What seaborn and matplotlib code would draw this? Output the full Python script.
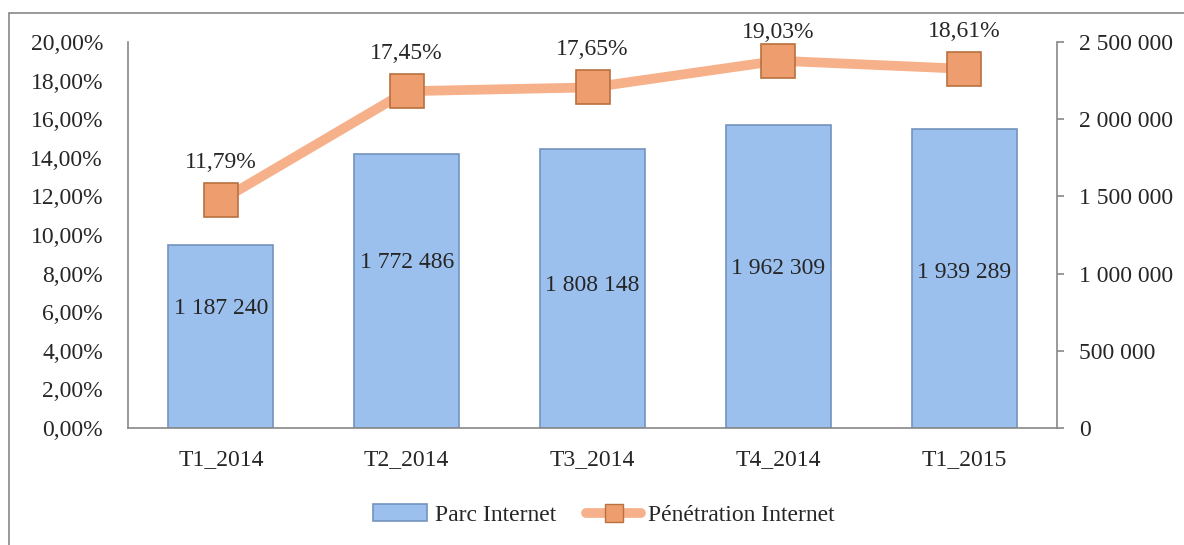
import numpy as np
import pandas as pd
import matplotlib.pyplot as plt
import seaborn as sns
from matplotlib.patches import Rectangle, Patch
from matplotlib.lines import Line2D
from matplotlib.ticker import FuncFormatter, MultipleLocator

# data
quarters = ["T1_2014", "T2_2014", "T3_2014", "T4_2014", "T1_2015"]
parc = [1187240, 1772486, 1808148, 1962309, 1939289]
penetration = [11.79, 17.45, 17.65, 19.03, 18.61]
# where Excel put the bar value labels (in bar units)
parc_label_y = [777000, 1075000, 926000, 1036000, 1004000]
# line label offsets above the markers (points); T4 is pushed down by the chart edge
pen_label_off = [27, 27, 27, 20, 27]

df = pd.DataFrame({"quarter": quarters, "parc": parc, "pen": penetration})

sns.set_theme(style="white")
plt.rcParams["font.family"] = ["Liberation Serif", "DejaVu Serif"]

FS = 17
bar_col = "#9cc0ee"
bar_edge = "#7393bd"
line_col = "#f6b08a"
mark_col = "#ee9e6e"
mark_edge = "#b9713f"
grey = "#888888"

fig = plt.figure(figsize=(11.84, 5.45), dpi=100)
fig.patches.append(Rectangle((9 / 1184, -0.1), 1.2, 1 - 13 / 545 + 0.1,
                             transform=fig.transFigure, fill=False,
                             edgecolor=grey, linewidth=1.2))

ax = fig.add_axes([128 / 1184, 1 - 428 / 545, (1057 - 128) / 1184, (428 - 42) / 545])
ax2 = ax.twinx()

# bars -> right axis (primary axes, ticks moved to the right)
sns.barplot(data=df, x="quarter", y="parc", ax=ax, color=bar_col, width=0.565,
            saturation=1, edgecolor=bar_edge, linewidth=1.2)
ax.set_ylim(0, 2500000)
ax.set_xlim(-0.5, 4.5)
ax.yaxis.tick_right()
ax.yaxis.set_label_position("right")
ax.yaxis.set_major_locator(MultipleLocator(500000))
ax.yaxis.set_major_formatter(FuncFormatter(lambda v, p: f"{int(v):,}".replace(",", " ")))
ax.tick_params(axis="y", which="both", right=True, left=False, length=5, width=1.2,
               color=grey, labelsize=FS, pad=11)
ax.tick_params(axis="x", length=0, labelsize=FS, pad=15)
ax.set_xlabel("")
ax.set_ylabel("")
for side in ["top", "left"]:
    ax.spines[side].set_visible(False)
for side in ["bottom", "right"]:
    ax.spines[side].set_color(grey)
    ax.spines[side].set_linewidth(1.2)

for i, (v, ly) in enumerate(zip(parc, parc_label_y)):
    ax.text(i, ly, f"{v:,}".replace(",", " "), ha="center", va="center", fontsize=FS)

# penetration line -> left axis
sns.pointplot(data=df, x="quarter", y="pen", ax=ax2, color=line_col,
              markers="s", markersize=24, linewidth=7)
for ln in ax2.lines:
    ln.set_markerfacecolor(mark_col)
    ln.set_markeredgecolor(mark_edge)
    ln.set_markeredgewidth(1.2)
ax2.set_ylim(0, 20)
ax2.set_xlim(-0.5, 4.5)
ax2.yaxis.tick_left()
ax2.yaxis.set_major_locator(MultipleLocator(2))
ax2.yaxis.set_major_formatter(FuncFormatter(lambda v, p: f"{v:.2f}".replace(".", ",") + "%"))
ax2.tick_params(axis="y", left=False, right=False, labelsize=FS, pad=12)
ax2.set_xlabel("")
ax2.set_ylabel("")
for side in ["top", "right", "bottom"]:
    ax2.spines[side].set_visible(False)
ax2.spines["left"].set_visible(True)
ax2.spines["left"].set_color(grey)
ax2.spines["left"].set_linewidth(1.2)

for i, (v, off) in enumerate(zip(penetration, pen_label_off)):
    ax2.annotate(f"{v:.2f}".replace(".", ",") + "%", (i, v), xytext=(0, off),
                 textcoords="offset points", ha="center", va="center", fontsize=FS)

handles = [
    Patch(facecolor=bar_col, edgecolor=bar_edge, linewidth=1.2),
    Line2D([0], [0], color=line_col, linewidth=7, marker="s", markersize=13,
           markerfacecolor=mark_col, markeredgecolor=mark_edge, solid_capstyle="round"),
]
fig.legend(handles, ["Parc Internet", "Pénétration Internet"], loc="center",
           bbox_to_anchor=(0.51, 1 - 515 / 545), ncol=2, frameon=False,
           fontsize=FS, handlelength=2.3, handletextpad=0.3, columnspacing=1.3)

fig.savefig("out.png", dpi=100)
